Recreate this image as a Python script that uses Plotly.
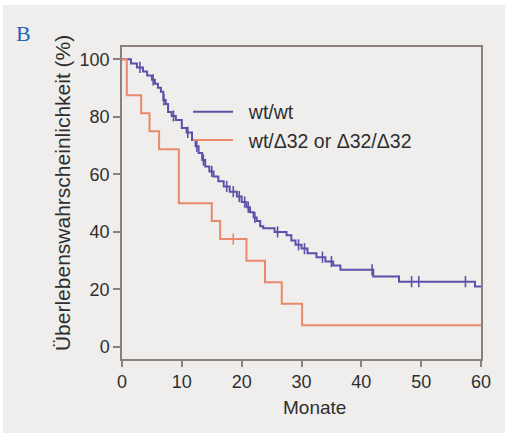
import numpy as np
import plotly.graph_objects as go

# ---- data (Kaplan-Meier, months vs survival %) ----
wt_times = [0, 1.5, 2.5, 3.5, 4.2, 5.0, 5.5, 6.0, 6.5, 6.9, 7.3, 7.7, 8.3, 9.0, 10.0,
            10.8, 11.7, 12.3, 12.8, 13.4, 13.9, 14.6, 15.3, 16.1, 17.0, 18.0, 19.2,
            20.0, 20.8, 21.4, 22.0, 22.5, 23.1, 23.6, 25.5, 27.5, 28.3, 29.0, 30.0,
            31.0, 32.5, 34.0, 35.3, 36.5, 42.0, 46.3, 59.0, 60.0]
wt_surv = [100, 98.6, 97.2, 95.8, 94.4, 92.9, 91.5, 90.1, 88.7, 85.9, 84.5, 81.7, 80.3,
           78.9, 76.1, 74.6, 72.0, 69.8, 67.4, 65.0, 62.7, 61.0, 59.3, 57.6, 55.8, 54.0,
           52.3, 50.4, 48.6, 46.8, 45.0, 43.8, 42.0, 41.3, 40.0, 38.8, 37.0, 35.5, 34.2,
           32.6, 31.2, 29.7, 28.3, 26.8, 24.5, 22.7, 21.0, 21.0]
wt_censor = [3.0, 5.2, 7.0, 8.6, 11.0, 12.5, 13.6, 15.0, 17.5, 18.6, 19.6, 20.5, 21.1,
             22.2, 26.0, 29.5, 30.5, 33.5, 35.0, 41.8, 48.4, 49.6, 57.4]

d32_times = [0, 0.8, 3.2, 4.6, 6.2, 9.5, 15.0, 16.4, 20.8, 23.9, 26.7, 30.1, 60.0]
d32_surv = [100, 87.5, 81.25, 75.0, 68.75, 50.0, 43.75, 37.5, 30.0, 22.5, 15.0, 7.5, 7.5]
d32_censor = [18.6]

series_names = ["wt/wt", "wt/\u039432 or \u039432/\u039432"]
x_ticks = [0, 10, 20, 30, 40, 50, 60]
y_ticks = [0, 20, 40, 60, 80, 100]
x_title = "Monate"
y_title = "\u00dcberlebenswahrscheinlichkeit (%)"
panel_label = "B"

BLUE = "#5a51a8"
ORANGE = "#e8896b"
TXT = "#2e2e2e"
AX = "#8c807c"
PANEL = "#efeeec"
FONT = "Liberation Sans, Arial, sans-serif"


def step_value(times, surv, t):
    idx = np.searchsorted(np.array(times), np.array(t), side="right") - 1
    return np.array(surv)[idx]


fig = go.Figure()
for times, surv, cens, name, col in [
    (wt_times, wt_surv, wt_censor, series_names[0], BLUE),
    (d32_times, d32_surv, d32_censor, series_names[1], ORANGE),
]:
    fig.add_trace(go.Scatter(x=times, y=surv, mode="lines",
                             name="\u00a0\u00a0" + name,
                             line=dict(color=col, width=2, shape="hv")))
    fig.add_trace(go.Scatter(x=cens, y=step_value(times, surv, cens), mode="markers",
                             showlegend=False, hoverinfo="skip",
                             marker=dict(symbol="line-ns", size=8,
                                         line=dict(color=col, width=1.6))))

fig.update_layout(
    width=508, height=437,
    margin=dict(l=122, r=27, t=47, b=78),
    paper_bgcolor="#ffffff",
    plot_bgcolor="#f3f2f0",
    font=dict(family=FONT, size=19, color=TXT),
    showlegend=True,
    legend=dict(x=0.1838, y=0.854, xanchor="left", yanchor="top",
                bgcolor="rgba(0,0,0,0)", font=dict(size=19.5, color=TXT),
                tracegroupgap=0, itemwidth=40),
    shapes=[dict(type="rect", xref="paper", yref="paper", layer="below",
                 x0=-0.3315, x1=1.0669, y0=-0.2372, y1=1.1346,
                 fillcolor=PANEL, line=dict(width=0))],
    annotations=[
        dict(text=panel_label, xref="paper", yref="paper",
             x=-0.301, y=1.042, xanchor="left", yanchor="middle", showarrow=False,
             font=dict(family="Liberation Serif, Times New Roman, serif",
                       size=22, color="#2267b3")),
        dict(text=y_title, xref="paper", yref="paper", textangle=-90,
             x=-0.167, y=0.532, xanchor="center", yanchor="middle", showarrow=False,
             font=dict(size=21, color=TXT)),
        dict(text=x_title, xref="paper", yref="paper",
             x=0.5376, y=-0.157, xanchor="center", yanchor="middle", showarrow=False,
             font=dict(size=19, color=TXT)),
    ],
)
fig.update_xaxes(range=[0, 60], tickvals=x_ticks, ticks="outside", ticklen=6,
                 tickcolor=AX, tickwidth=1.5, showline=True, linecolor=AX,
                 linewidth=1.5, mirror=True, showgrid=False, zeroline=False,
                 automargin=False, tickfont=dict(size=18, color=TXT))
fig.update_yaxes(range=[-4.2, 104.3], tickvals=y_ticks, ticks="outside", ticklen=7,
                 tickcolor=AX, tickwidth=1.5, showline=True, linecolor=AX,
                 linewidth=1.5, mirror=True, showgrid=False, zeroline=False,
                 automargin=False, tickfont=dict(size=18, color=TXT))

fig.write_html("out.html", config={"displayModeBar": False},
               post_script="document.body.style.margin='0px';")
